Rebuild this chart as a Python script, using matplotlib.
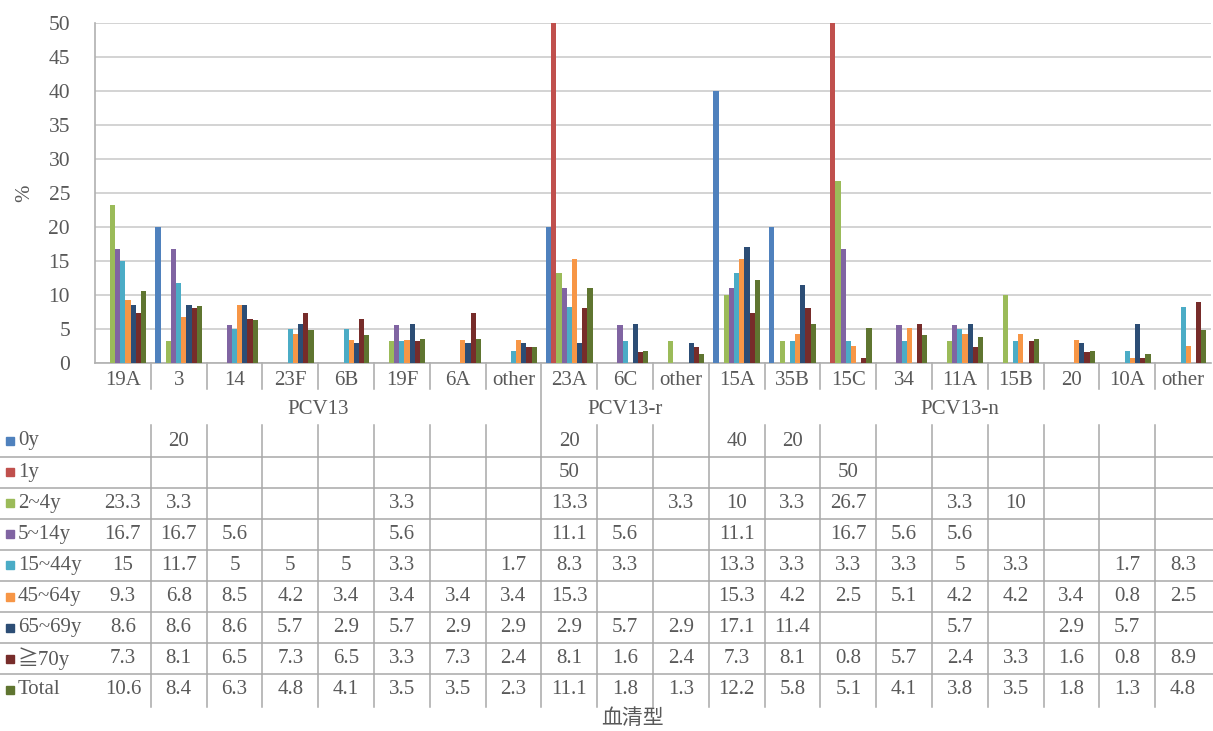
import matplotlib.pyplot as plt
from matplotlib.patches import Rectangle
from matplotlib.transforms import blended_transform_factory
import numpy as np

N = None

categories = ["19A", "3", "14", "23F", "6B", "19F", "6A", "other",
              "23A", "6C", "other",
              "15A", "35B", "15C", "34", "11A", "15B", "20", "10A", "other"]
groups = [("PCV13", 0, 7), ("PCV13-r", 8, 10), ("PCV13-n", 11, 19)]

series_names = ["0y", "1y", "2~4y", "5~14y", "15~44y", "45~64y", "65~69y", "≧70y", "Total"]

v_0y = [N, 20, N, N, N, N, N, N, 20, N, N, 40, 20, N, N, N, N, N, N, N]
v_1y = [N, N, N, N, N, N, N, N, 50, N, N, N, N, 50, N, N, N, N, N, N]
v_2_4 = [23.3, 3.3, N, N, N, 3.3, N, N, 13.3, N, 3.3, 10, 3.3, 26.7, N, 3.3, 10, N, N, N]
v_5_14 = [16.7, 16.7, 5.6, N, N, 5.6, N, N, 11.1, 5.6, N, 11.1, N, 16.7, 5.6, 5.6, N, N, N, N]
v_15_44 = [15, 11.7, 5, 5, 5, 3.3, N, 1.7, 8.3, 3.3, N, 13.3, 3.3, 3.3, 3.3, 5, 3.3, N, 1.7, 8.3]
v_45_64 = [9.3, 6.8, 8.5, 4.2, 3.4, 3.4, 3.4, 3.4, 15.3, N, N, 15.3, 4.2, 2.5, 5.1, 4.2, 4.2, 3.4, 0.8, 2.5]
v_65_69 = [8.6, 8.6, 8.6, 5.7, 2.9, 5.7, 2.9, 2.9, 2.9, 5.7, 2.9, 17.1, 11.4, N, N, 5.7, N, 2.9, 5.7, N]
v_70 = [7.3, 8.1, 6.5, 7.3, 6.5, 3.3, 7.3, 2.4, 8.1, 1.6, 2.4, 7.3, 8.1, 0.8, 5.7, 2.4, 3.3, 1.6, 0.8, 8.9]
v_total = [10.6, 8.4, 6.3, 4.8, 4.1, 3.5, 3.5, 2.3, 11.1, 1.8, 1.3, 12.2, 5.8, 5.1, 4.1, 3.8, 3.5, 1.8, 1.3, 4.8]

series_values = [v_0y, v_1y, v_2_4, v_5_14, v_15_44, v_45_64, v_65_69, v_70, v_total]
colors = ["#4F81BD", "#C0504D", "#9BBB59", "#8064A2", "#4BACC6",
          "#F79646", "#2C4D75", "#772C2A", "#5F7530"]

yticks = [0, 5, 10, 15, 20, 25, 30, 35, 40, 45, 50]

W, H = 1213, 731
txt = "#595959"
serif = ["Liberation Serif", "Noto Sans CJK JP", "DejaVu Serif"]
plt.rcParams["font.family"] = serif

fig = plt.figure(figsize=(W / 100, H / 100), dpi=100)
# plot area in pixels: x 95..1211, y 23..363
ax = fig.add_axes([95 / W, 1 - 363 / H, 1116 / W, 340 / H])

x = np.arange(len(categories))
bw = 0.093
for i, (vals, c) in enumerate(zip(series_values, colors)):
    h = [np.nan if v is None else v for v in vals]
    ax.bar(x + (i - 4) * bw, h, width=bw, color=c, zorder=3)

ax.set_xlim(-0.5, len(categories) - 0.5)
ax.set_ylim(0, 50)
ax.set_yticks(yticks)
ax.set_xticks([])
ax.yaxis.grid(True, color="#cccccc", lw=1.2, zorder=0)
ax.tick_params(axis="y", length=0, pad=18, labelsize=15.5, labelcolor=txt)
for s in ["top", "right"]:
    ax.spines[s].set_visible(False)
for s in ["left", "bottom"]:
    ax.spines[s].set_color("#b0b0b0")
    ax.spines[s].set_linewidth(1.2)
ax.set_ylabel("%", fontsize=15, color=txt, labelpad=10)


def fy(p):
    return 1 - p / H


trx = blended_transform_factory(ax.transData, fig.transFigure)
line_c = "#a8a8a8"

# category labels and separators
for i, cat in enumerate(categories):
    ax.text(i, fy(380), cat, transform=trx, ha="center", va="center",
            fontsize=15, color=txt)
group_bounds = [g[2] + 0.5 for g in groups[:-1]]
for i in range(len(categories) - 1):
    b = i + 0.5
    if b in group_bounds:
        ax.plot([b, b], [fy(363), fy(707)], transform=trx, color=line_c,
                lw=1.1, clip_on=False)
    else:
        ax.plot([b, b], [fy(363), fy(389)], transform=trx, color=line_c,
                lw=1.1, clip_on=False)
        ax.plot([b, b], [fy(425), fy(707)], transform=trx, color=line_c,
                lw=1.1, clip_on=False)

for name, a, b in groups:
    ax.text((a + b) / 2, fy(410), name, transform=trx, ha="center",
            va="center", fontsize=15, color=txt)

# data table
row0, step = 441, 31.1
for r, (name, vals, c) in enumerate(zip(series_names, series_values, colors)):
    yc = row0 + r * step
    fig.add_artist(Rectangle((6 / W, fy(yc + 4)), 8 / W, 8 / H,
                             transform=fig.transFigure, color=c))
    fig.text(18 / W, fy(yc), name, ha="left", va="center", fontsize=15,
             color=txt)
    for i, v in enumerate(vals):
        if v is not None:
            ax.text(i, fy(yc), f"{v:g}", transform=trx, ha="center",
                    va="center", fontsize=15, color=txt)
    if r < len(series_names) - 1:
        yl = yc + step / 2
        fig.add_artist(plt.Line2D([0, 1], [fy(yl), fy(yl)],
                                  transform=fig.transFigure, color=line_c,
                                  lw=1.1))

fig.text(632 / W, fy(718), "血清型", ha="center", va="center", fontsize=15,
         color=txt, family=["Noto Sans CJK SC", "DejaVu Sans"])

fig.savefig("out.png", dpi=100)
